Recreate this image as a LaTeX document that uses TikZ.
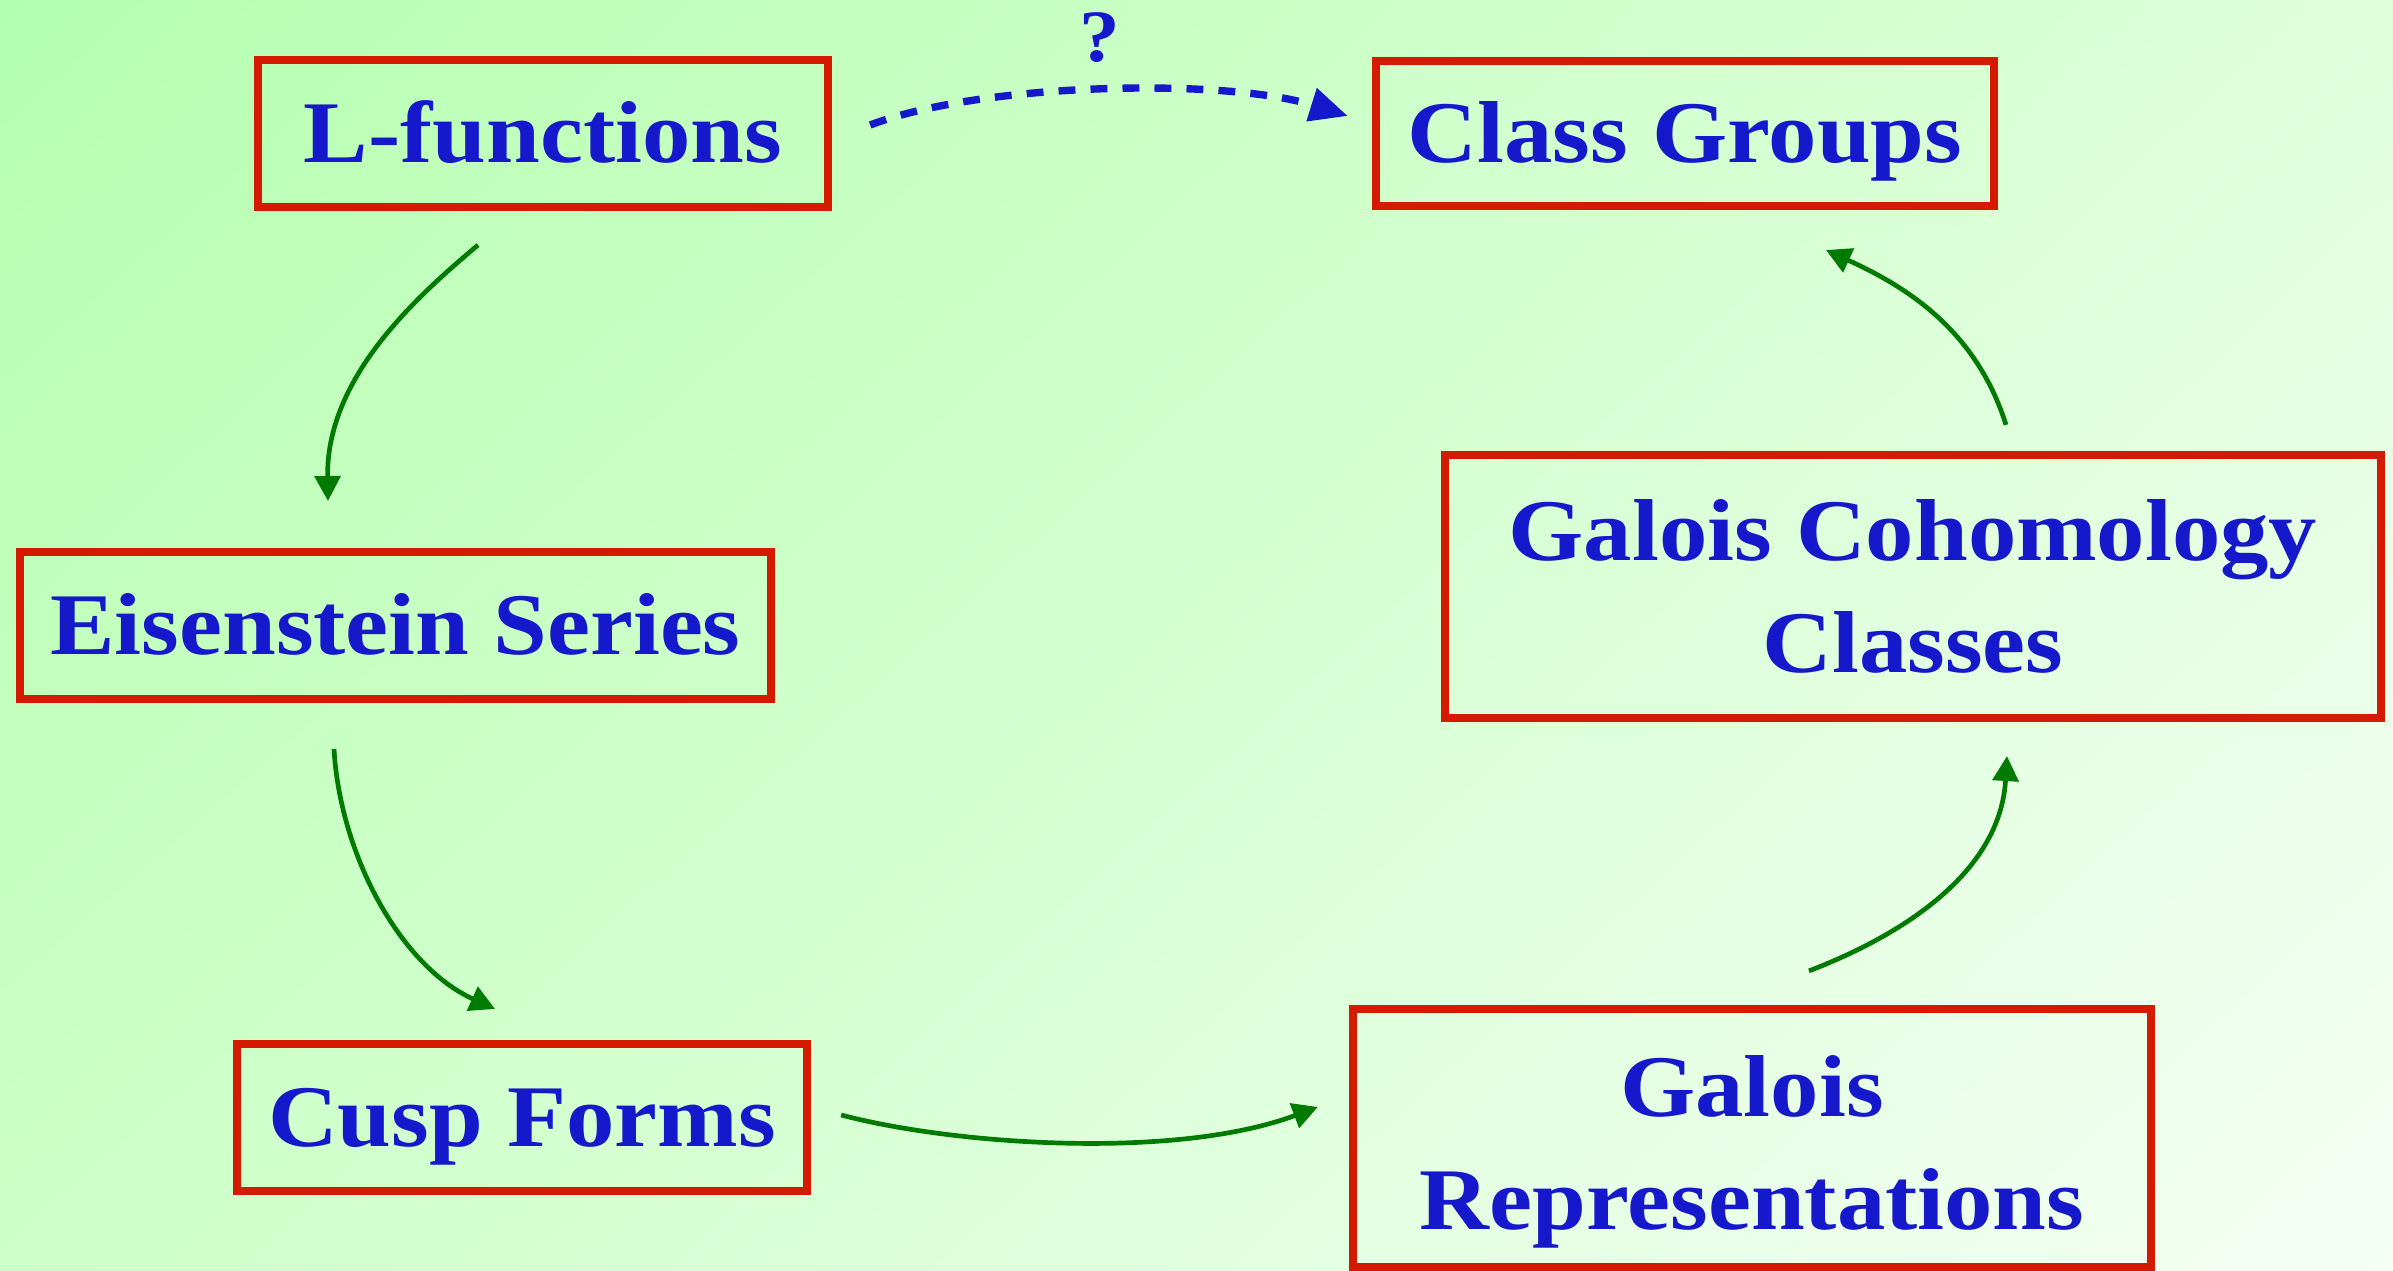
\documentclass[tikz,border=0pt]{standalone}
\usepackage{fontspec}
\setmainfont{Liberation Serif}[FakeStretch=1.1]
\usetikzlibrary{arrows.meta,shadings}
\definecolor{txtblue}{RGB}{22,24,204}
\definecolor{boxred}{RGB}{212,26,0}
\definecolor{arrgreen}{RGB}{0,122,0}
\definecolor{bgUL}{RGB}{180,255,175}
\definecolor{bgUR}{RGB}{222,255,218}
\definecolor{bgLL}{RGB}{205,255,200}
\definecolor{bgLR}{RGB}{245,255,245}
\begin{document}
\begin{tikzpicture}[x=0.01cm,y=-0.01cm,
  box/.style={draw=boxred, line width=2.28pt, text=txtblue, inner sep=0pt,
    font=\fontsize{25}{32}\selectfont\bfseries, align=center},
  oneline/.style={text height=22.5pt, text depth=6pt},
  garrow/.style={draw=arrgreen, line width=1.33pt, -{Triangle[length=7.1pt,width=7.3pt]}},
  qarrow/.style={draw=txtblue, line width=2.1pt, dash pattern=on 4.8pt off 4.3pt,
    -{Triangle[length=10.8pt,width=9.4pt]}}]
\shade[upper left=bgUL, upper right=bgUR, lower left=bgLL, lower right=bgLR]
  (0,0) rectangle (2393,1271);
\useasboundingbox (0,0) rectangle (2393,1271);

\node[box, oneline, minimum width=5.70cm, minimum height=1.47cm] (lf) at (543,133.5) {L-functions};
\node[box, oneline, minimum width=6.18cm, minimum height=1.45cm] (cg) at (1685,133.5) {Class Groups};
\node[box, oneline, minimum width=7.51cm, minimum height=1.47cm] (es) at (395.5,625.5) {Eisenstein Series};
\node[box, minimum width=9.35cm, minimum height=2.63cm] (gc) at (1913,586.5) {Galois Cohomology\\Classes};
\node[box, oneline, minimum width=5.70cm, minimum height=1.46cm] (cf) at (522,1117.5) {Cusp Forms};
\node[box, text height=52pt, text depth=0pt, minimum width=7.98cm, minimum height=2.58cm] (gr) at (1752,1138) {Galois\\Representations};
\node[text=txtblue, font=\fontsize{21}{25}\selectfont\bfseries, inner sep=0pt] (q) at (1100,38) {?};

\draw[garrow] ([shift={(-65,34)}]lf.south) .. controls +(-58,49) and +(-2,-125) .. ([shift={(-67.5,-47)}]es.north);
\draw[garrow] ([shift={(-61.5,46)}]es.south) .. controls +(6,105) and +(-95,-43) .. ([shift={(-27,-31.5)}]cf.north);
\draw[garrow] ([shift={(30,-2.5)}]cf.east) .. controls +(113,30) and +(-142,53) .. ([shift={(-31,-31)}]gr.west);
\draw[garrow] ([shift={(57,-34)}]gr.north) .. controls +(91,-35) and +(-7,118) .. ([shift={(94,34)}]gc.south);
\draw[garrow] ([shift={(93,-26)}]gc.north) .. controls +(-31,-99) and +(74,34) .. ([shift={(141,40)}]cg.south);
\draw[qarrow] ([shift={(38,-8.5)}]lf.east) .. controls +(114,-43) and +(-122,-38) .. ([shift={(-24,-17.5)}]cg.west);
\end{tikzpicture}
\end{document}
